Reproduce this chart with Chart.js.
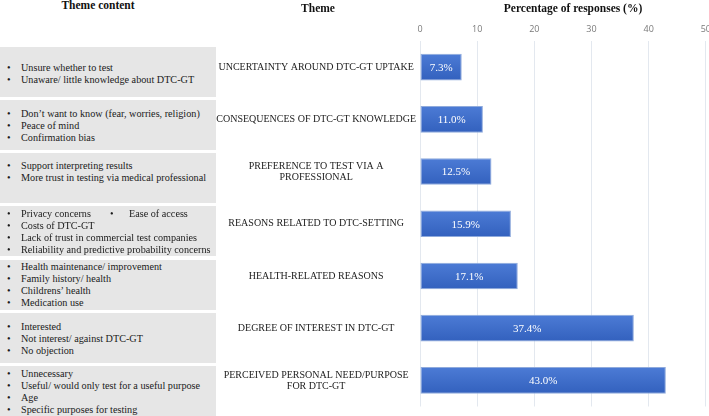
<!DOCTYPE html>
<html>
<head>
<meta charset="utf-8">
<script src="https://cdn.jsdelivr.net/npm/chart.js@4.4.1/dist/chart.umd.min.js"></script>
<style>
  body { margin: 0; background: #fff; font-family: "Liberation Serif", serif; }
  #wrap { position: relative; width: 709px; height: 416px; overflow: hidden; }
  .head { position: absolute; font-weight: bold; font-size: 11.5px; color: #111; transform: translateX(-50%); white-space: nowrap; line-height: 14px; z-index: 2; }
  .box { position: absolute; left: 0; width: 216px; height: 50px; background: #e6e6e6; box-sizing: border-box; font-size: 10.2px; line-height: 12px; color: #1a1a1a; z-index: 1; }
  .box div { position: relative; padding-left: 21px; white-space: nowrap; }
  .box div span.b { position: absolute; left: 7px; }
  .box span.b2 { position: absolute; left: 110px; }
  .box span.t2 { position: absolute; left: 129px; }
  #chartBox { position: absolute; left: 198px; top: 0; width: 519px; height: 416px; }
</style>
</head>
<body>
<div id="wrap">
  <div class="head" style="left:98px; top:-2px;">Theme content</div>
  <div class="head" style="left:318px; top:1px;">Theme</div>
  <div class="head" style="left:573px; top:1px;">Percentage of responses (%)</div>
  <div id="chartBox"><canvas id="chart"></canvas></div>
  <div id="left"></div>
</div>
<script>
// themes (y axis), top to bottom
const themes = [
  'UNCERTAINTY AROUND DTC-GT UPTAKE',
  'CONSEQUENCES OF DTC-GT KNOWLEDGE',
  ['PREFERENCE TO TEST VIA A', 'PROFESSIONAL'],
  'REASONS RELATED TO DTC-SETTING',
  'HEALTH-RELATED REASONS',
  'DEGREE OF INTEREST IN DTC-GT',
  ['PERCEIVED PERSONAL NEED/PURPOSE', 'FOR DTC-GT'],
];
const percentages = [7.3, 11.0, 12.5, 15.9, 17.1, 37.4, 43.0];
const xTicks = [0, 10, 20, 30, 40, 50];

// theme content bullets, one list per theme
const themeContent = [
  ['Unsure whether to test', 'Unaware/ little knowledge about DTC-GT'],
  ['Don\u2019t want to know (fear, worries, religion)', 'Peace of mind', 'Confirmation bias'],
  ['Support interpreting results', 'More trust in testing via medical professional'],
  ['Privacy concerns|Ease of access', 'Costs of DTC-GT', 'Lack of trust in commercial test companies', 'Reliability and predictive probability concerns'],
  ['Health maintenance/ improvement', 'Family history/ health', 'Childrens\u2019 health', 'Medication use'],
  ['Interested', 'Not interest/ against DTC-GT', 'No objection'],
  ['Unnecessary', 'Useful/ would only test for a useful purpose', 'Age', 'Specific purposes for testing'],
];

// left panel
const boxTops = [47, 100, 153, 206, 260, 313, 366];
const boxPads = [15, 8, 7, 2, 1, 8, 2];
const left = document.getElementById('left');
themeContent.forEach((items, i) => {
  const box = document.createElement('div');
  box.className = 'box';
  box.style.top = boxTops[i] + 'px';
  box.style.paddingTop = boxPads[i] + 'px';
  items.forEach((txt) => {
    const line = document.createElement('div');
    const parts = txt.split('|');
    line.innerHTML = '<span class="b">\u2022</span>' + parts[0];
    if (parts[1]) {
      line.innerHTML += '<span class="b2">\u2022</span><span class="t2">' + parts[1] + '</span>';
    }
    box.appendChild(line);
  });
  left.appendChild(box);
});

const barLabels = {
  id: 'barLabels',
  afterDatasetsDraw(chart) {
    const { ctx } = chart;
    const meta = chart.getDatasetMeta(0);
    ctx.save();
    ctx.fillStyle = '#ffffff';
    ctx.font = '11px "Liberation Serif"';
    ctx.textAlign = 'center';
    ctx.textBaseline = 'middle';
    meta.data.forEach((bar, i) => {
      const cx = (bar.x + bar.base) / 2;
      ctx.fillText(percentages[i].toFixed(1) + '%', cx, bar.y + 1);
    });
    ctx.restore();
  },
};

new Chart(document.getElementById('chart'), {
  type: 'bar',
  data: {
    labels: themes,
    datasets: [{
      data: percentages,
      backgroundColor(c) {
        const chart = c.chart;
        if (!chart.chartArea || !chart.scales.y) return '#4270cb';
        const yc = chart.scales.y.getPixelForValue(c.dataIndex);
        const g = chart.ctx.createLinearGradient(0, yc - 14, 0, yc + 14);
        g.addColorStop(0, '#4d7cd6');
        g.addColorStop(1, '#3260bd');
        return g;
      },
      borderColor: '#8faadc',
      borderWidth: 1,
      borderSkipped: false,
      categoryPercentage: 1,
      barPercentage: 0.51,
    }],
  },
  options: {
    indexAxis: 'y',
    responsive: true,
    maintainAspectRatio: false,
    animation: false,
    layout: { padding: { left: 0, right: 0, top: 0, bottom: 2 } },
    plugins: { legend: { display: false }, tooltip: { enabled: false } },
    scales: {
      x: {
        position: 'top',
        min: 0,
        max: 50,
        afterBuildTicks(scale) { scale.ticks = xTicks.map((v) => ({ value: v })); },
        afterFit(scale) { scale.height = 41; },
        border: { display: false },
        grid: { color: '#e3e8ef', drawTicks: false },
        ticks: { padding: 6, color: '#7a7a7a', font: { family: 'Open Sans', size: 9 } },
      },
      y: {
        afterFit(scale) { scale.width = 222; },
        border: { display: false },
        grid: { display: false, drawTicks: false },
        ticks: {
          padding: 4,
          crossAlign: 'center',
          color: '#222',
          font: { family: 'Liberation Serif', size: 10, lineHeight: 1.1 },
        },
      },
    },
  },
  plugins: [barLabels],
});
</script>
</body>
</html>
